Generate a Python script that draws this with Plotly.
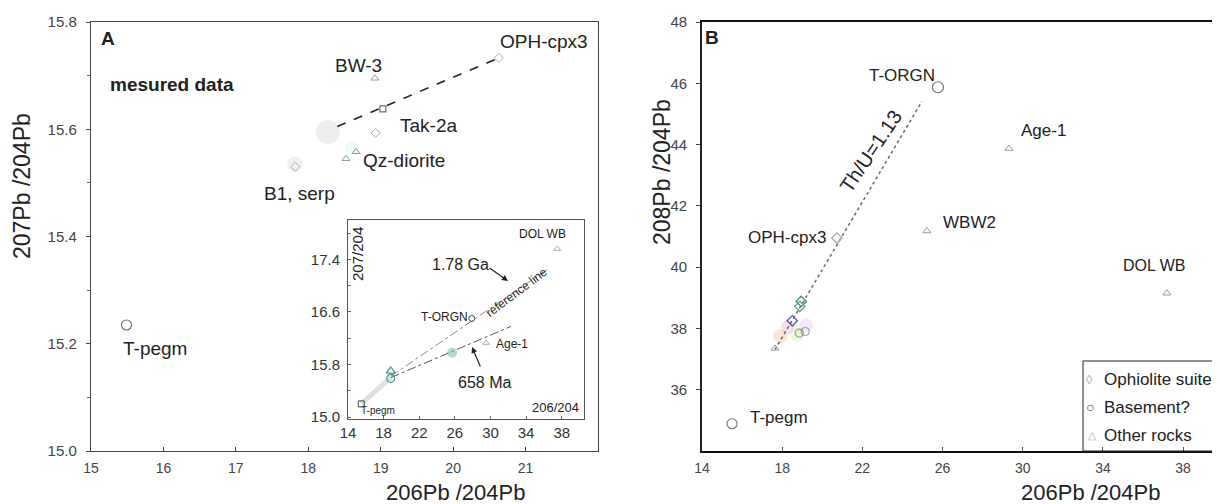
import plotly.graph_objects as go

W, H = 1220, 504
OFF = 8  # page body margin in the browser


def DX(px):
    return (px - OFF) / W


def DY(py):
    return 1 - (py - OFF) / H


def P(px, py):
    return DX(px), DY(py)

# ---------------- Panel A (main) data ----------------
a_base_x = [15.49, 19.03]
a_base_y = [15.235, 15.638]
a_other_x = [18.92, 18.52, 18.66]
a_other_y = [15.695, 15.545, 15.558]
a_oph_x = [20.63, 18.93, 17.82]
a_oph_y = [15.733, 15.593, 15.53]
a_blob_x = [18.27, 17.82, 18.6]
a_blob_y = [15.595, 15.535, 15.565]
a_line_x = [18.4, 20.63]
a_line_y = [15.605, 15.733]

# ---------------- Panel A inset data ----------------
i_base_x = [15.49, 27.9]
i_base_y = [15.2, 16.5]
i_cluster_x = [18.8, 18.8]
i_cluster_y = [15.59, 15.7]
i_blob_x = [25.7]
i_blob_y = [15.98]
i_other_x = [29.5, 37.5]
i_other_y = [16.13, 17.56]
i_ga_x = [18.8, 36.4]
i_ga_y = [15.62, 17.25]
i_ma_x = [18.8, 32.3]
i_ma_y = [15.6, 16.38]
i_band_x = [15.49, 18.8]
i_band_y = [15.2, 15.6]

# ---------------- Panel B data ----------------
b_base_x = [25.77, 15.5, 18.85, 19.15]
b_base_y = [45.87, 34.89, 37.85, 37.9]
b_other_x = [29.31, 25.22, 37.19, 17.64]
b_other_y = [43.87, 41.18, 39.15, 37.35]
b_oph_x = [20.73, 18.95, 18.88, 18.5]
b_oph_y = [40.95, 38.88, 38.72, 38.25]
b_oph_col = ["#aaaaaa", "#3f8f7f", "#5aa090", "#4a5fb0"]
b_blob_x = [17.9, 18.3, 18.75, 19.2]
b_blob_y = [37.75, 38.05, 37.8, 38.1]
b_blob_col = ["#f5c8a0", "#f0b8d8", "#d8f0a0", "#e8d0f0"]
b_line_x = [17.64, 24.97]
b_line_y = [37.31, 45.41]

fig = go.Figure()

# ----- Panel A traces -----
fig.add_trace(go.Scatter(x=a_blob_x, y=a_blob_y, mode="markers", xaxis="x", yaxis="y",
                         marker=dict(size=[24, 16, 14], color=["#c8c8c8", "#d0d0d0", "#c8eaea"], opacity=0.3, line=dict(width=0))))
fig.add_trace(go.Scatter(x=a_line_x, y=a_line_y, mode="lines", xaxis="x", yaxis="y",
                         line=dict(color="#222", width=1.6, dash="dash")))
fig.add_trace(go.Scatter(x=a_base_x, y=a_base_y, mode="markers", xaxis="x", yaxis="y",
                         marker=dict(symbol=["circle-open", "square-open"], size=[10, 6], color="#333", line=dict(width=1.2))))
fig.add_trace(go.Scatter(x=a_other_x, y=a_other_y, mode="markers", xaxis="x", yaxis="y",
                         marker=dict(symbol="triangle-up-open", size=7, color="#999", line=dict(width=1))))
fig.add_trace(go.Scatter(x=a_oph_x, y=a_oph_y, mode="markers", xaxis="x", yaxis="y",
                         marker=dict(symbol="diamond-open", size=7, color="#aaa", line=dict(width=1))))

# ----- Inset traces -----
fig.add_trace(go.Scatter(x=i_band_x, y=i_band_y, mode="lines", xaxis="x3", yaxis="y3",
                         line=dict(color="rgba(150,150,150,0.3)", width=5)))
fig.add_trace(go.Scatter(x=i_ga_x, y=i_ga_y, mode="lines", xaxis="x3", yaxis="y3",
                         line=dict(color="#888", width=1, dash="dashdot")))
fig.add_trace(go.Scatter(x=i_ma_x, y=i_ma_y, mode="lines", xaxis="x3", yaxis="y3",
                         line=dict(color="#555", width=1, dash="dashdot")))
fig.add_trace(go.Scatter(x=i_blob_x, y=i_blob_y, mode="markers", xaxis="x3", yaxis="y3",
                         marker=dict(size=10, color="#6fb3a8", opacity=0.5)))
fig.add_trace(go.Scatter(x=i_cluster_x, y=i_cluster_y, mode="markers", xaxis="x3", yaxis="y3",
                         marker=dict(symbol=["circle-open", "triangle-up-open"], size=8, color="#4a9a8a", line=dict(width=1.2))))
fig.add_trace(go.Scatter(x=i_base_x, y=i_base_y, mode="markers", xaxis="x3", yaxis="y3",
                         marker=dict(symbol=["square-open", "circle-open"], size=6, color="#444", line=dict(width=1))))
fig.add_trace(go.Scatter(x=i_other_x, y=i_other_y, mode="markers", xaxis="x3", yaxis="y3",
                         marker=dict(symbol="triangle-up-open", size=6, color="#aaa", line=dict(width=1))))

# ----- Panel B traces -----
fig.add_trace(go.Scatter(x=b_blob_x, y=b_blob_y, mode="markers", xaxis="x2", yaxis="y2",
                         marker=dict(size=14, color=b_blob_col, opacity=0.45, line=dict(width=0))))
fig.add_trace(go.Scatter(x=b_line_x, y=b_line_y, mode="lines", xaxis="x2", yaxis="y2",
                         line=dict(color="#667", width=1.5, dash="dot")))
fig.add_trace(go.Scatter(x=b_base_x, y=b_base_y, mode="markers", xaxis="x2", yaxis="y2",
                         marker=dict(symbol="circle-open", size=[11, 10, 8, 8], color=["#333", "#444", "#777", "#777"], line=dict(width=1.2))))
fig.add_trace(go.Scatter(x=b_other_x, y=b_other_y, mode="markers", xaxis="x2", yaxis="y2",
                         marker=dict(symbol="triangle-up-open", size=7, color="#999", line=dict(width=1))))
fig.add_trace(go.Scatter(x=b_oph_x, y=b_oph_y, mode="markers", xaxis="x2", yaxis="y2",
                         marker=dict(symbol="diamond-open", size=8, color=b_oph_col, line=dict(width=1.3))))

TF = "Liberation Sans Narrow, Arial Narrow, Liberation Sans, Arial"
LF = "Liberation Sans, Arial"

common = dict(showgrid=False, zeroline=False, automargin=False)

fig.update_layout(
    width=W, height=H, autosize=False, showlegend=False,
    margin=dict(l=0, r=0, t=0, b=0, pad=0, autoexpand=False),
    paper_bgcolor="white", plot_bgcolor="white",
    font=dict(family=LF, color="#222"),
    xaxis=dict(domain=[DX(91), DX(598)], range=[15, 22], tickvals=[15, 16, 17, 18, 19, 20, 21],
               ticks="inside", ticklen=4, tickcolor="#444", showline=True, linecolor="#444", linewidth=1.4,
               mirror=True, anchor="y", ticklabelstandoff=4,
               tickfont=dict(family=TF, size=14, color="#444"), **common),
    yaxis=dict(domain=[DY(451), DY(22)], range=[15.0, 15.8], tickvals=[15.0, 15.2, 15.4, 15.6, 15.8],
               ticktext=["15.0", "15.2", "15.4", "15.6", "15.8"],
               ticks="outside", ticklen=4, tickcolor="#444", showline=True, linecolor="#444", linewidth=1.4,
               mirror=True, anchor="x", ticklabelstandoff=6,
               minor=dict(dtick=0.1, tick0=15.0, ticks="outside", ticklen=3, tickcolor="#666"),
               tickfont=dict(family=TF, size=15, color="#444"), **common),
    xaxis3=dict(domain=[DX(348), DX(584)], range=[14, 40.5], tickvals=[14, 18, 22, 26, 30, 34, 38],
                ticks="inside", ticklen=3, tickcolor="#666", showline=True, linecolor="#555", linewidth=1,
                mirror=True, anchor="y3", tickfont=dict(family=TF, size=15, color="#333"), **common),
    yaxis3=dict(domain=[DY(419), DY(220)], range=[14.97, 18.0], tickvals=[15.0, 15.8, 16.6, 17.4],
                ticktext=["15.0", "15.8", "16.6", "17.4"],
                ticks="inside", ticklen=3, tickcolor="#666", showline=True, linecolor="#555", linewidth=1,
                mirror=True, anchor="x3", ticklabelstandoff=4,
                minor=dict(dtick=0.4, tick0=15.0, ticks="inside", ticklen=3, tickcolor="#777"),
                tickfont=dict(family=TF, size=15, color="#333"), **common),
    xaxis2=dict(domain=[DX(702), DX(1220)], range=[14, 39.84], tickvals=[14, 18, 22, 26, 30, 34, 38],
                ticks="inside", ticklen=4, tickcolor="#555", showline=True, linecolor="#111", linewidth=2,
                mirror=True, anchor="y2", ticklabelstandoff=3,
                tickfont=dict(family=TF, size=14, color="#444"), **common),
    yaxis2=dict(domain=[DY(451), DY(22)], range=[34, 48], tickvals=[36, 38, 40, 42, 44, 46, 48],
                ticks="outside", ticklen=4, tickcolor="#444", showline=True, linecolor="#222", linewidth=1.6,
                mirror=False, anchor="x2", ticklabelstandoff=6,
                tickfont=dict(family=TF, size=15, color="#444"), **common),
)

ann = []


def text(px, py, s, size=14, angle=0, bold=False, xanchor="center", color="#222", family=LF):
    x, y = P(px, py)
    if bold:
        s = "<b>" + s + "</b>"
    ann.append(dict(x=x, y=y, xref="paper", yref="paper", text=s, showarrow=False,
                    font=dict(size=size, family=family, color=color), textangle=angle,
                    xanchor=xanchor, yanchor="middle"))


def arrow(hx, hy, tx, ty):
    x, y = P(hx, hy)
    ann.append(dict(x=x, y=y, xref="paper", yref="paper", text="", showarrow=True,
                    ax=tx - hx, ay=ty - hy, axref="pixel", ayref="pixel",
                    arrowhead=2, arrowsize=1, arrowwidth=1.2, arrowcolor="#222"))

# Panel A texts
text(108, 38, "A", 19, bold=True)
text(172, 84, "mesured data", 19, bold=True)
text(358, 65, "BW-3", 19)
text(428, 125, "Tak-2a", 19)
text(544, 42, "OPH-cpx3", 19)
text(404, 160, "Qz-diorite", 19)
text(299, 193, "B1, serp", 19)
text(155, 348, "T-pegm", 19)
text(22, 186, "207Pb /204Pb", 23, angle=-90)
text(455, 492, "206Pb /204Pb", 22)

# Inset texts
text(357, 254, "207/204", 15, angle=-90)
text(555, 407, "206/204", 13)
text(378, 410, "T-pegm", 10)
text(444, 317, "T-ORGN", 12)
text(512, 344, "Age-1", 12)
text(542, 234, "DOL WB", 12)
text(460, 264, "1.78 Ga", 16)
text(517, 292, "reference line", 12, angle=-37)
text(484, 382, "658 Ma", 16)
arrow(508, 281, 488, 267)
arrow(472, 347, 481, 368)

# Panel B texts
text(712, 37, "B", 19, bold=True)
text(902, 76, "T-ORGN", 17)
text(1043, 130, "Age-1", 17)
text(969, 222, "WBW2", 17)
text(1154, 265, "DOL WB", 16)
text(787, 238, "OPH-cpx3", 17)
text(779, 417, "T-pegm", 17)
text(871, 151, "Th/U=1.13", 20, angle=-56)
text(662, 172, "208Pb /204Pb", 23, angle=-90)
text(1090, 492, "206Pb /204Pb", 22)

# Legend (manual)
text(1089, 379, "◊", 13, color="#aaa")
text(1090, 407, "○", 14, color="#444")
text(1092, 435, "△", 11, color="#aaa")
text(1102, 379, "Ophiolite suite", 17, xanchor="left")
text(1102, 407, "Basement?", 17, xanchor="left")
text(1102, 435, "Other rocks", 17, xanchor="left")

lx0, ly0 = P(1083, 361)
lx1, ly1 = P(1240, 451)
shapes = [dict(type="rect", xref="paper", yref="paper", x0=lx0, y0=ly1, x1=lx1, y1=ly0,
               line=dict(color="#222", width=1), fillcolor="rgba(255,255,255,0)", layer="above")]

fig.update_layout(annotations=ann, shapes=shapes)
fig.write_html("out.html")
